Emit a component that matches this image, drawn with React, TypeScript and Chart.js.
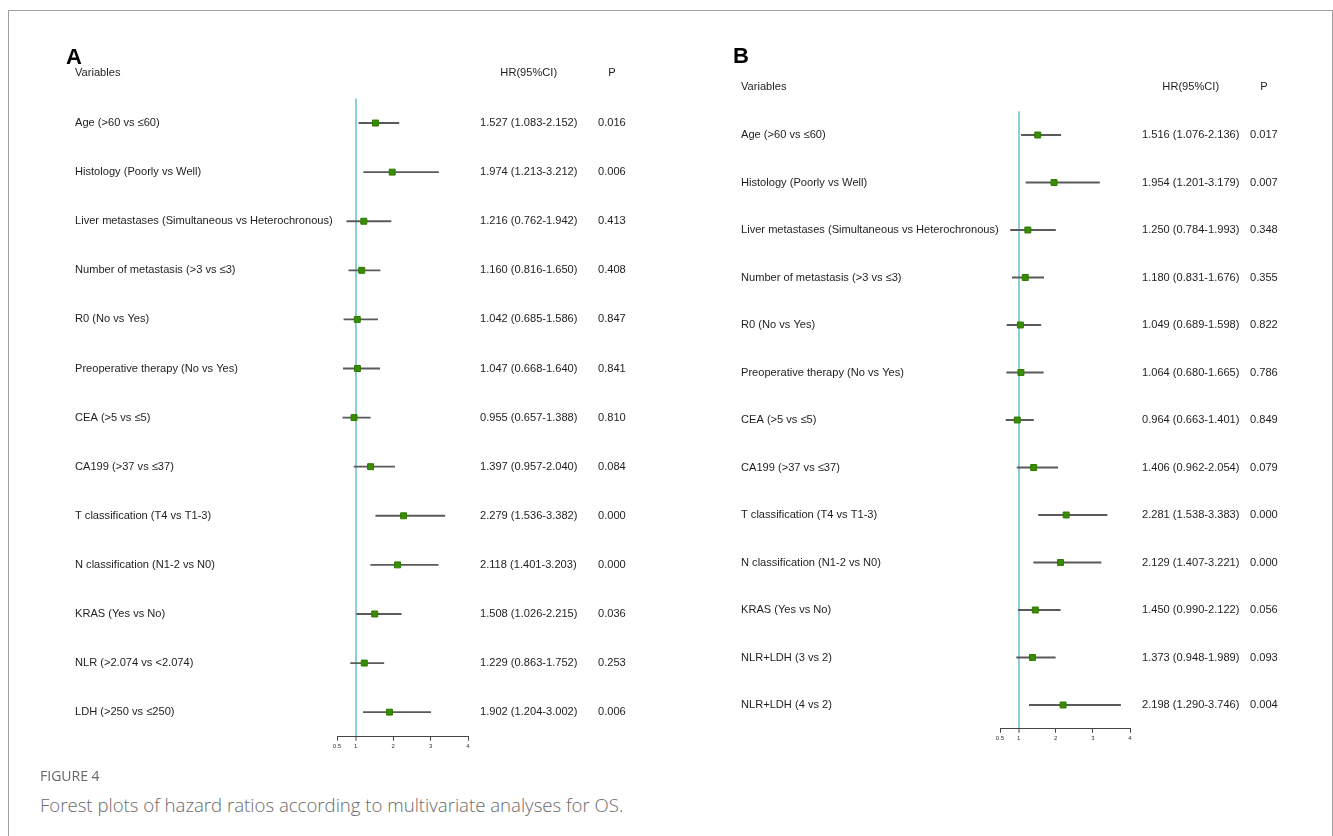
import React, { useEffect, useRef } from "react";
import { Chart, registerables } from "chart.js";

Chart.register(...registerables);

const tickValues = [0.5, 1, 2, 3, 4];

const labelsA = [
  "Age (>60 vs ≤60)",
  "Histology (Poorly vs Well)",
  "Liver metastases (Simultaneous vs Heterochronous)",
  "Number of metastasis (>3 vs ≤3)",
  "R0 (No vs Yes)",
  "Preoperative therapy (No vs Yes)",
  "CEA (>5 vs ≤5)",
  "CA199 (>37 vs ≤37)",
  "T classification (T4 vs T1-3)",
  "N classification (N1-2 vs N0)",
  "KRAS (Yes vs No)",
  "NLR (>2.074 vs <2.074)",
  "LDH (>250 vs ≤250)",
];
const hrA = [1.527, 1.974, 1.216, 1.16, 1.042, 1.047, 0.955, 1.397, 2.279, 2.118, 1.508, 1.229, 1.902];
const loA = [1.083, 1.213, 0.762, 0.816, 0.685, 0.668, 0.657, 0.957, 1.536, 1.401, 1.026, 0.863, 1.204];
const hiA = [2.152, 3.212, 1.942, 1.65, 1.586, 1.64, 1.388, 2.04, 3.382, 3.203, 2.215, 1.752, 3.002];
const pA = [0.016, 0.006, 0.413, 0.408, 0.847, 0.841, 0.81, 0.084, 0.0, 0.0, 0.036, 0.253, 0.006];

const labelsB = [
  "Age (>60 vs ≤60)",
  "Histology (Poorly vs Well)",
  "Liver metastases (Simultaneous vs Heterochronous)",
  "Number of metastasis (>3 vs ≤3)",
  "R0 (No vs Yes)",
  "Preoperative therapy (No vs Yes)",
  "CEA (>5 vs ≤5)",
  "CA199 (>37 vs ≤37)",
  "T classification (T4 vs T1-3)",
  "N classification (N1-2 vs N0)",
  "KRAS (Yes vs No)",
  "NLR+LDH (3 vs 2)",
  "NLR+LDH (4 vs 2)",
];
const hrB = [1.516, 1.954, 1.25, 1.18, 1.049, 1.064, 0.964, 1.406, 2.281, 2.129, 1.45, 1.373, 2.198];
const loB = [1.076, 1.201, 0.784, 0.831, 0.689, 0.68, 0.663, 0.962, 1.538, 1.407, 0.99, 0.948, 1.29];
const hiB = [2.136, 3.179, 1.993, 1.676, 1.598, 1.665, 1.401, 2.054, 3.383, 3.221, 2.122, 1.989, 3.746];
const pB = [0.017, 0.007, 0.348, 0.355, 0.822, 0.786, 0.849, 0.079, 0.0, 0.0, 0.056, 0.093, 0.004];

const TEXT_FONT = '11.1px "Liberation Sans", Arial, sans-serif';
const TEXT_COLOR = "#1e1e1e";

type PanelProps = {
  letter: string;
  labels: string[];
  hr: number[];
  lo: number[];
  hi: number[];
  p: number[];
  left: number;
  top: number;
  width: number;
  height: number;
  pad: { left: number; right: number; top: number; bottom: number };
  letterX: number;
  letterY: number;
  varX: number;
  headerY: number;
  hrX: number;
  pX: number;
};

function Panel(props: PanelProps) {
  const ref = useRef<HTMLCanvasElement | null>(null);
  useEffect(() => {
    const canvas = ref.current;
    if (!canvas) return;
    const { labels, hr, lo, hi, p, left, top } = props;
    const textPlugin = {
      id: "forestText",
      afterDraw(chart: any) {
        const ctx = chart.ctx;
        const yScale = chart.scales.y;
        ctx.save();
        ctx.fillStyle = "#000";
        ctx.font = 'bold 22px "Liberation Sans", Arial, sans-serif';
        ctx.textBaseline = "middle";
        ctx.textAlign = "left";
        ctx.fillText(props.letter, props.letterX - left, props.letterY - top);

        ctx.fillStyle = TEXT_COLOR;
        ctx.font = TEXT_FONT;
        const hrStrings = hr.map((v, i) => `${v.toFixed(3)} (${lo[i].toFixed(3)}-${hi[i].toFixed(3)})`);
        const pStrings = p.map((v) => v.toFixed(3));
        const hrW = ctx.measureText(hrStrings[0]).width;
        const pW = ctx.measureText(pStrings[0]).width;
        const hy = props.headerY - top;
        ctx.textAlign = "left";
        ctx.fillText("Variables", props.varX - left, hy);
        ctx.textAlign = "center";
        ctx.fillText("HR(95%CI)", props.hrX - left + hrW / 2, hy);
        ctx.fillText("P", props.pX - left + pW / 2, hy);
        ctx.textAlign = "left";
        labels.forEach((lab, i) => {
          const y = yScale.getPixelForValue(i);
          ctx.fillText(lab, props.varX - left, y);
          ctx.fillText(hrStrings[i], props.hrX - left, y);
          ctx.fillText(pStrings[i], props.pX - left, y);
        });
        ctx.restore();
      },
    };

    const chart = new Chart(canvas, {
      type: "bar",
      data: {
        labels,
        datasets: [
          {
            type: "bar",
            data: lo.map((l, i) => [l, hi[i]]),
            backgroundColor: "#5a5a5a",
            borderWidth: 0,
            barThickness: 1.2,
            order: 2,
          } as any,
          {
            type: "scatter",
            data: hr.map((v, i) => ({ x: v, y: i })),
            pointStyle: "rect",
            pointRadius: 4.2,
            backgroundColor: "#3b8c05",
            borderColor: "#2e7a00",
            borderWidth: 1,
            order: 1,
          } as any,
        ],
      },
      options: {
        indexAxis: "y",
        responsive: false,
        animation: false,
        events: [],
        layout: { padding: props.pad },
        plugins: { legend: { display: false }, tooltip: { enabled: false }, title: { display: false } },
        scales: {
          y: {
            type: "category",
            display: false,
            offset: true,
          },
          x: {
            type: "linear",
            min: 0.5,
            max: 4,
            afterBuildTicks: (scale: any) => {
              scale.ticks = tickValues.map((v) => ({ value: v }));
            },
            afterFit: (scale: any) => {
              scale.height = 16;
            },
            ticks: {
              autoSkip: false,
              maxRotation: 0,
              padding: 2,
              color: "#333",
              font: { size: 6, family: '"Liberation Sans", Arial, sans-serif' },
              callback: (v: any) => String(v),
            },
            grid: {
              drawOnChartArea: true,
              drawTicks: true,
              tickLength: 4,
              tickColor: "#444",
              tickWidth: 1,
              color: (c: any) => (c.tick && c.tick.value === 1 ? "#8ccfd8" : "rgba(0,0,0,0)"),
              lineWidth: (c: any) => (c.tick && c.tick.value === 1 ? 2 : 1),
            },
            border: { display: true, color: "#444", width: 1 },
          },
        },
      } as any,
      plugins: [textPlugin],
    });
    return () => chart.destroy();
  }, []);
  return (
    <canvas
      ref={ref}
      width={props.width}
      height={props.height}
      style={{ position: "absolute", left: props.left, top: props.top, width: props.width, height: props.height }}
    />
  );
}

export default function App() {
  const capFont = '"Open Sans", "Noto Sans", sans-serif';
  return (
    <div style={{ position: "absolute", left: 0, top: 0, width: 1333, height: 836, background: "#fff", overflow: "hidden" }}>
      <div
        style={{
          position: "absolute",
          left: 8,
          top: 10,
          width: 1325,
          height: 900,
          borderTop: "1.5px solid #a0a0a0",
          borderLeft: "1.5px solid #a0a0a0",
          borderRight: "1.5px solid #a0a0a0",
          boxSizing: "border-box",
        }}
      />
      <Panel
        letter="A"
        labels={labelsA}
        hr={hrA}
        lo={loA}
        hi={hiA}
        p={pA}
        left={0}
        top={30}
        width={666}
        height={740}
        pad={{ left: 337, right: 666 - 468, top: 98.5 - 30, bottom: 740 - (736.7 - 30) - 16 }}
        letterX={66}
        letterY={58}
        varX={75}
        headerY={73}
        hrX={480}
        pX={598}
      />
      <Panel
        letter="B"
        labels={labelsB}
        hr={hrB}
        lo={loB}
        hi={hiB}
        p={pB}
        left={666}
        top={30}
        width={667}
        height={740}
        pad={{ left: 1000 - 666, right: 1333 - 1130, top: 111.25 - 30, bottom: 740 - (728.75 - 30) - 16 }}
        letterX={733}
        letterY={57}
        varX={741}
        headerY={87}
        hrX={1142}
        pX={1250}
      />
      <div
        style={{
          position: "absolute",
          left: 40,
          top: 766,
          fontFamily: capFont,
          fontSize: 14,
          color: "#666",
          fontWeight: 500,
          lineHeight: "20px",
        }}
      >
        FIGURE 4
      </div>
      <div
        style={{
          position: "absolute",
          left: 40,
          top: 792,
          fontFamily: capFont,
          fontSize: 18.6,
          color: "#6a6a6a",
          fontWeight: 300,
          lineHeight: "26px",
          whiteSpace: "nowrap",
        }}
      >
        Forest plots of hazard ratios according to multivariate analyses for OS.
      </div>
    </div>
  );
}
